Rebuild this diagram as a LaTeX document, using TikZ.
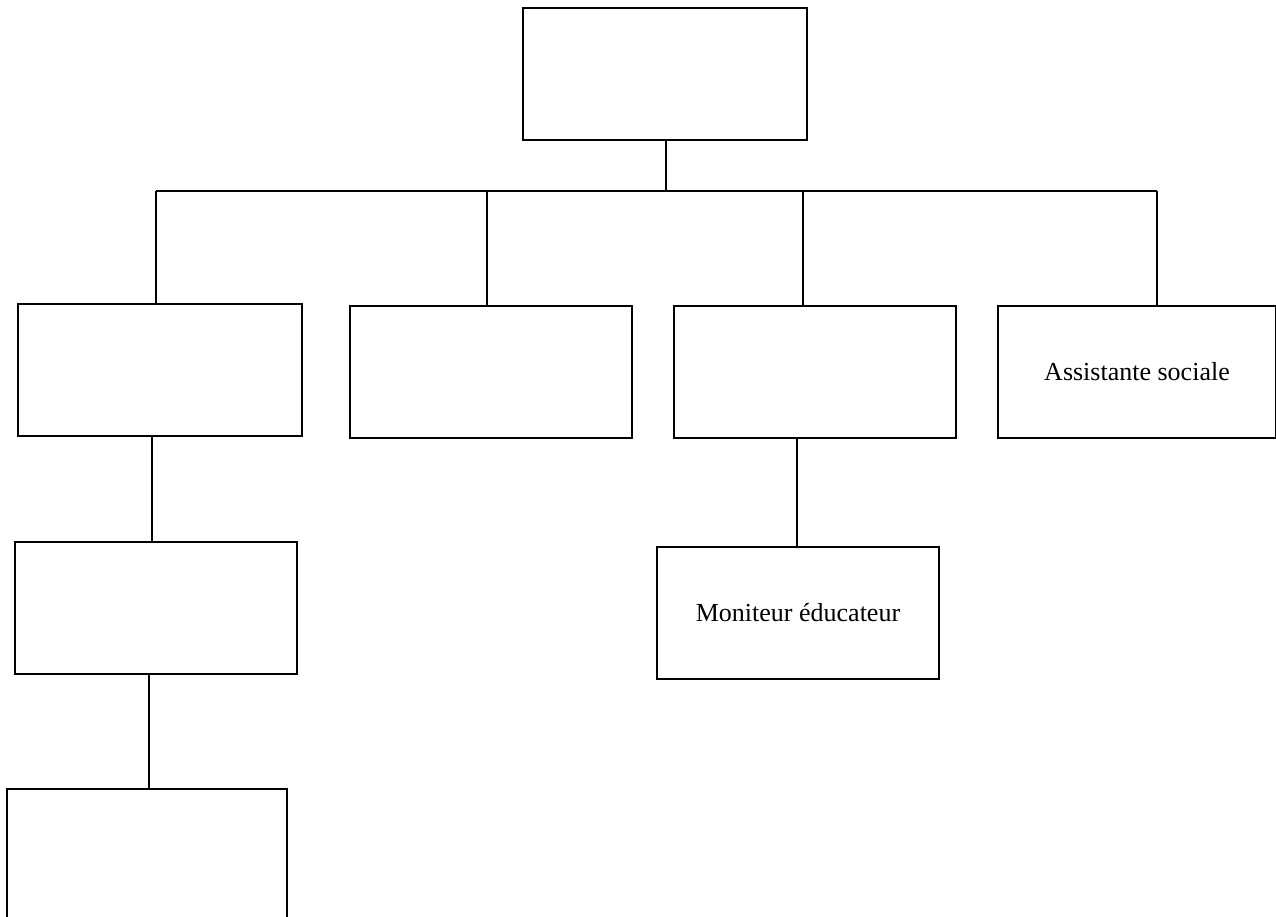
\documentclass[tikz,border=0pt]{standalone}
\usepackage{fontspec}
\setmainfont{Liberation Serif}
\begin{document}
\begin{tikzpicture}[x=1pt,y=-1pt,
  orgbox/.style={draw, line width=1.8pt, rectangle, inner sep=0pt, font=\fontsize{26}{31}\selectfont},
  link/.style={line width=1.8pt}]
\useasboundingbox (0,0) rectangle (1276,917);
\clip (0,0) rectangle (1276,917);
\fill[white] (0,0) rectangle (1276,917);
% boxes
\node[orgbox, minimum width=284pt, minimum height=132pt] (top) at (665,74) {};
\node[orgbox, minimum width=284pt, minimum height=132pt] (b1) at (160,370) {};
\node[orgbox, minimum width=282pt, minimum height=132pt] (b2) at (491,372) {};
\node[orgbox, minimum width=282pt, minimum height=132pt] (b3) at (815,372) {};
\node[orgbox, minimum width=278pt, minimum height=132pt] (b4) at (1137,372) {Assistante sociale};
\node[orgbox, minimum width=282pt, minimum height=132pt] (c1) at (156,608) {};
\node[orgbox, minimum width=282pt, minimum height=132pt] (m) at (798,613) {Moniteur éducateur};
\node[orgbox, minimum width=280pt, minimum height=150pt] (d1) at (147,864) {};
% bus
\coordinate (bus) at (666,191);
\coordinate (j1) at (156,191);
\coordinate (j2) at (487,191);
\coordinate (j3) at (803,191);
\coordinate (j4) at (1157,191);
\draw[link] (top.south -| bus) -- (bus);
\draw[link] (j1) -- (j4);
\draw[link] (j1) -- (j1 |- b1.north);
\draw[link] (j2) -- (j2 |- b2.north);
\draw[link] (j3) -- (j3 |- b3.north);
\draw[link] (j4) -- (j4 |- b4.north);
% lower links
\coordinate (k1) at (152,436);
\draw[link] (k1 |- b1.south) -- (k1 |- c1.north);
\coordinate (k2) at (149,674);
\draw[link] (k2 |- c1.south) -- (k2 |- d1.north);
\coordinate (k3) at (797,438);
\draw[link] (k3 |- b3.south) -- (k3 |- m.north);
\end{tikzpicture}
\end{document}
